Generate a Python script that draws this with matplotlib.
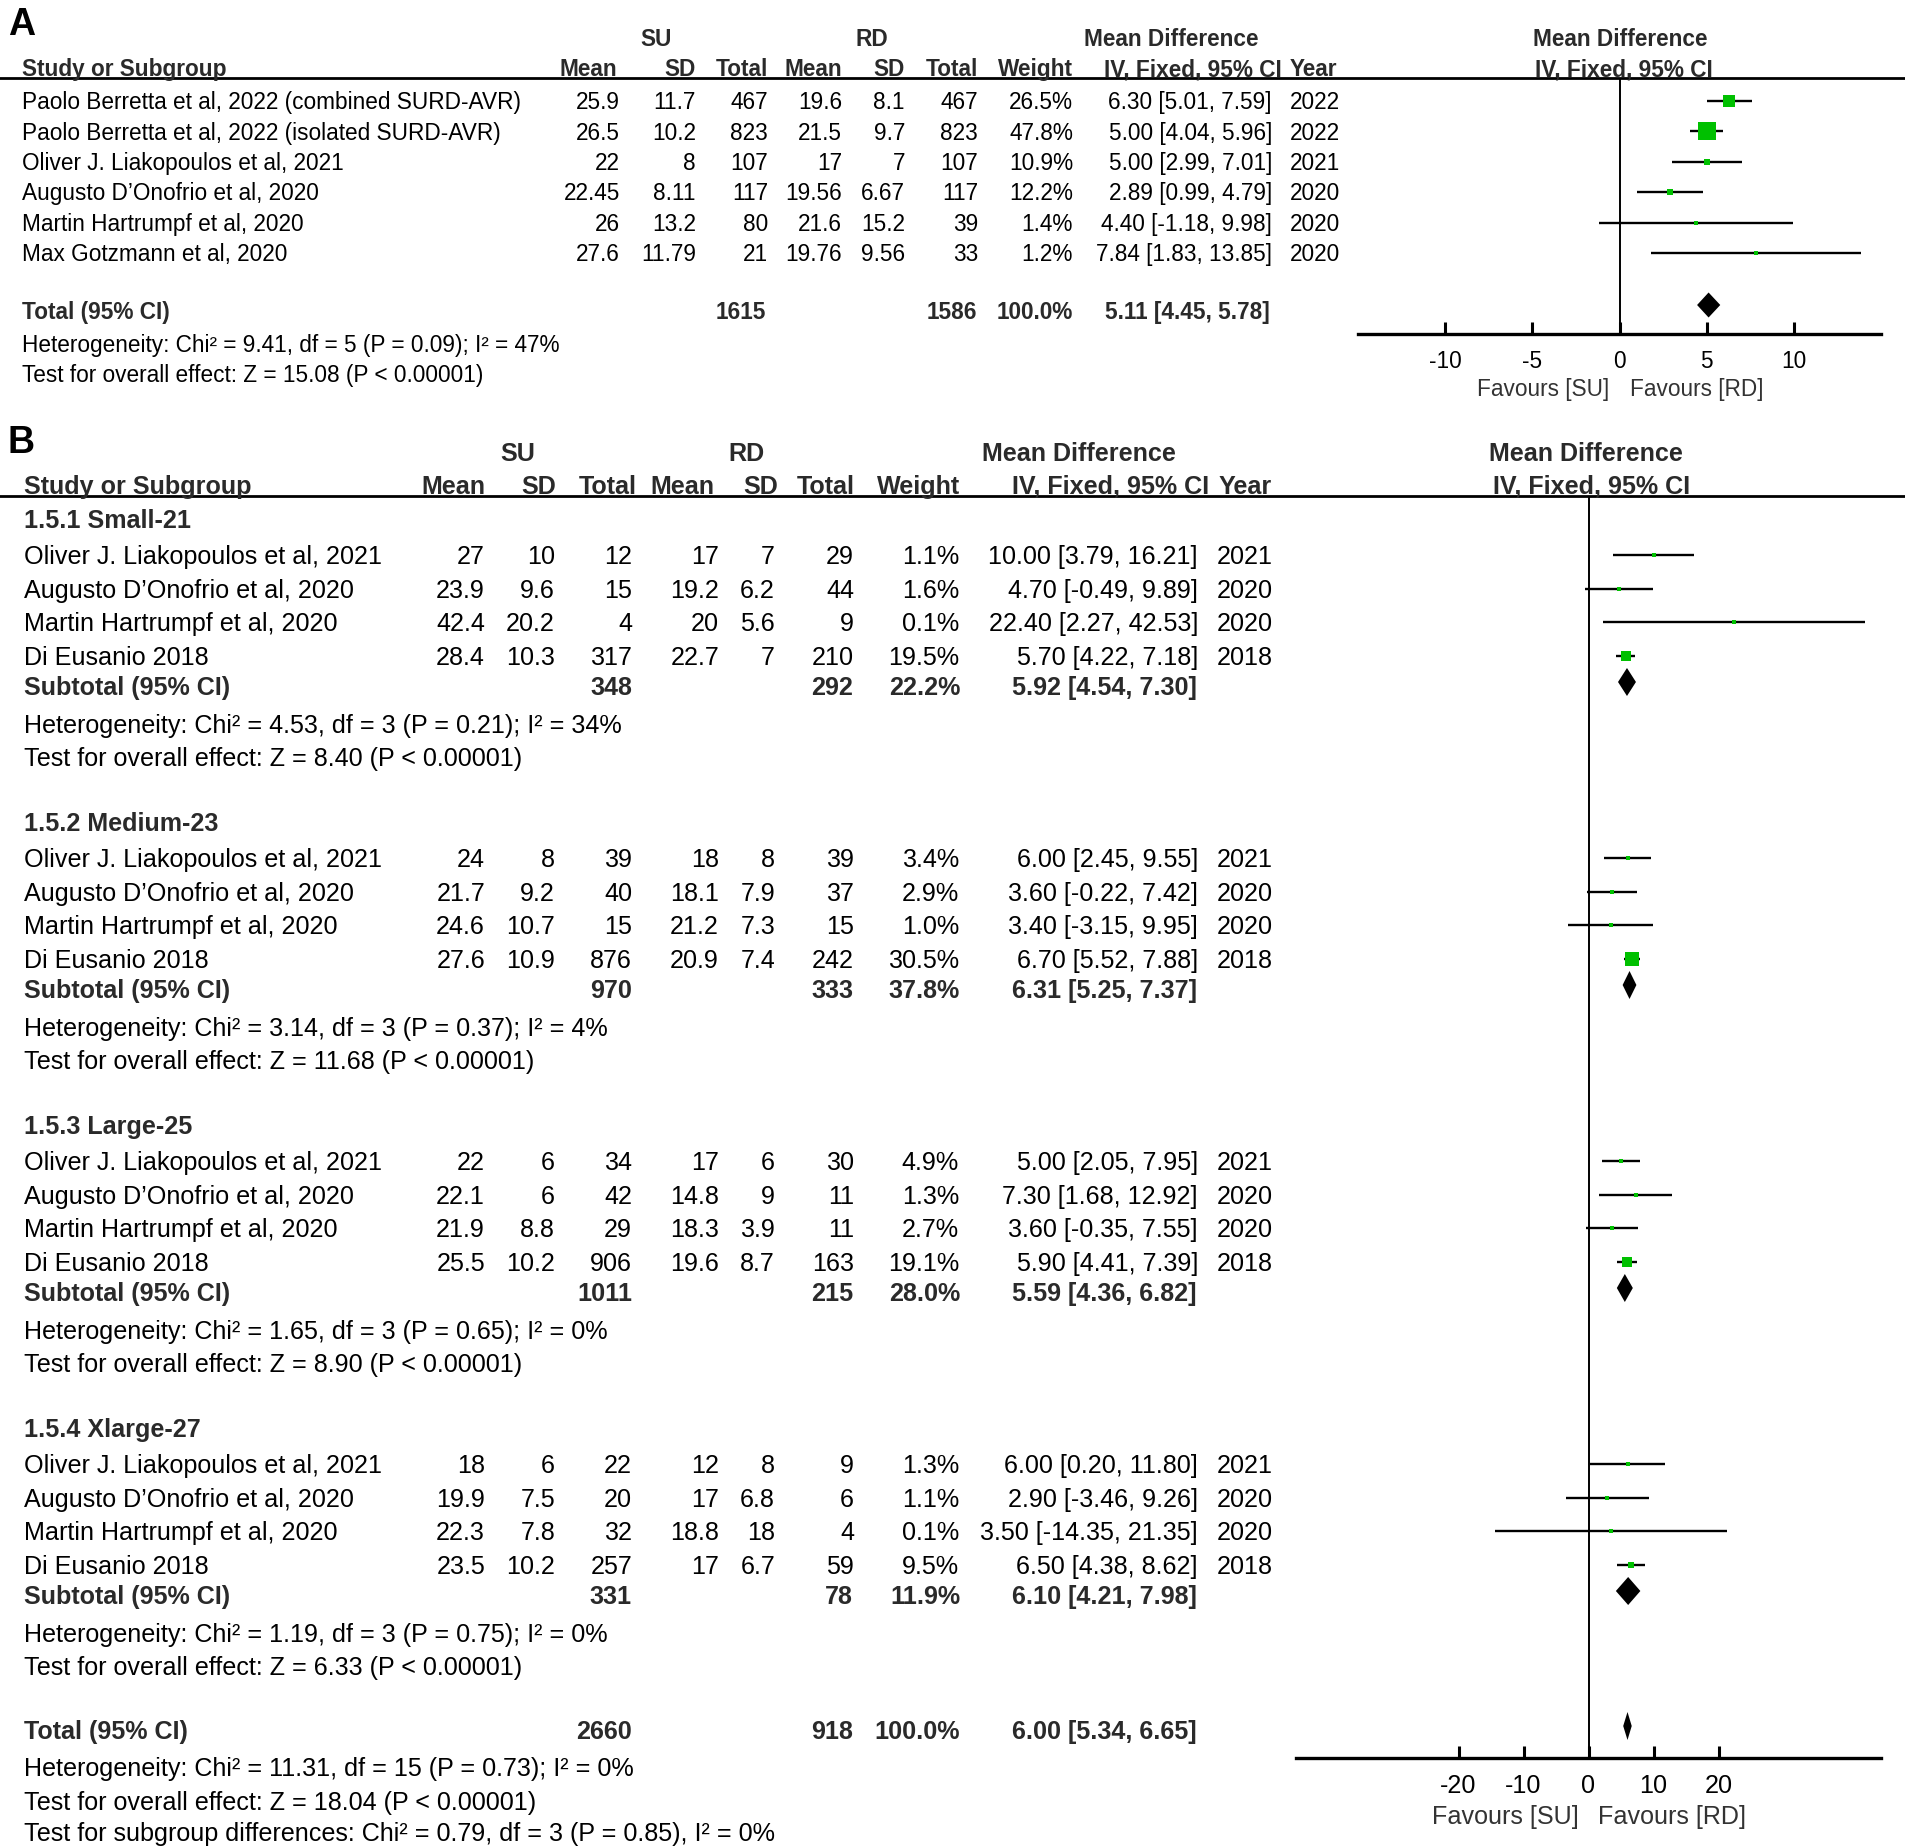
import matplotlib
matplotlib.use('Agg')
import matplotlib.pyplot as plt

plt.rcParams['font.family'] = ['Liberation Sans', 'DejaVu Sans']

W, H, DPI = 1905, 1846, 100

# ---------------- Panel A data ----------------
a_studies = ["Paolo Berretta et al, 2022 (combined SURD-AVR)",
             "Paolo Berretta et al, 2022 (isolated SURD-AVR)",
             "Oliver J. Liakopoulos et al, 2021",
             "Augusto D\u2019Onofrio et al, 2020",
             "Martin Hartrumpf et al, 2020",
             "Max Gotzmann et al, 2020"]
a_su_mean = [25.9, 26.5, 22, 22.45, 26, 27.6]
a_su_sd = [11.7, 10.2, 8, 8.11, 13.2, 11.79]
a_su_n = [467, 823, 107, 117, 80, 21]
a_rd_mean = [19.6, 21.5, 17, 19.56, 21.6, 19.76]
a_rd_sd = [8.1, 9.7, 7, 6.67, 15.2, 9.56]
a_rd_n = [467, 823, 107, 117, 39, 33]
a_weight = [26.5, 47.8, 10.9, 12.2, 1.4, 1.2]
a_md = [6.30, 5.00, 5.00, 2.89, 4.40, 7.84]
a_lo = [5.01, 4.04, 2.99, 0.99, -1.18, 1.83]
a_hi = [7.59, 5.96, 7.01, 4.79, 9.98, 13.85]
a_year = [2022, 2022, 2021, 2020, 2020, 2020]
a_total = {"su_n": 1615, "rd_n": 1586, "weight": 100.0, "md": 5.11, "lo": 4.45, "hi": 5.78}
a_notes = ["Heterogeneity: Chi\u00b2 = 9.41, df = 5 (P = 0.09); I\u00b2 = 47%",
           "Test for overall effect: Z = 15.08 (P < 0.00001)"]
a_ticks = [-10, -5, 0, 5, 10]

# ---------------- Panel B data ----------------
b_names = ["Oliver J. Liakopoulos et al, 2021", "Augusto D\u2019Onofrio et al, 2020",
           "Martin Hartrumpf et al, 2020", "Di Eusanio 2018"]
b_years = [2021, 2020, 2020, 2018]
b_groups = ["1.5.1 Small-21", "1.5.2 Medium-23", "1.5.3 Large-25", "1.5.4 Xlarge-27"]
b_su_mean = [[27, 23.9, 42.4, 28.4], [24, 21.7, 24.6, 27.6], [22, 22.1, 21.9, 25.5], [18, 19.9, 22.3, 23.5]]
b_su_sd = [[10, 9.6, 20.2, 10.3], [8, 9.2, 10.7, 10.9], [6, 6, 8.8, 10.2], [6, 7.5, 7.8, 10.2]]
b_su_n = [[12, 15, 4, 317], [39, 40, 15, 876], [34, 42, 29, 906], [22, 20, 32, 257]]
b_rd_mean = [[17, 19.2, 20, 22.7], [18, 18.1, 21.2, 20.9], [17, 14.8, 18.3, 19.6], [12, 17, 18.8, 17]]
b_rd_sd = [[7, 6.2, 5.6, 7], [8, 7.9, 7.3, 7.4], [6, 9, 3.9, 8.7], [8, 6.8, 18, 6.7]]
b_rd_n = [[29, 44, 9, 210], [39, 37, 15, 242], [30, 11, 11, 163], [9, 6, 4, 59]]
b_weight = [[1.1, 1.6, 0.1, 19.5], [3.4, 2.9, 1.0, 30.5], [4.9, 1.3, 2.7, 19.1], [1.3, 1.1, 0.1, 9.5]]
b_md = [[10.00, 4.70, 22.40, 5.70], [6.00, 3.60, 3.40, 6.70], [5.00, 7.30, 3.60, 5.90], [6.00, 2.90, 3.50, 6.50]]
b_lo = [[3.79, -0.49, 2.27, 4.22], [2.45, -0.22, -3.15, 5.52], [2.05, 1.68, -0.35, 4.41], [0.20, -3.46, -14.35, 4.38]]
b_hi = [[16.21, 9.89, 42.53, 7.18], [9.55, 7.42, 9.95, 7.88], [7.95, 12.92, 7.55, 7.39], [11.80, 9.26, 21.35, 8.62]]
b_sub_su_n = [348, 970, 1011, 331]
b_sub_rd_n = [292, 333, 215, 78]
b_sub_weight = [22.2, 37.8, 28.0, 11.9]
b_sub_md = [5.92, 6.31, 5.59, 6.10]
b_sub_lo = [4.54, 5.25, 4.36, 4.21]
b_sub_hi = [7.30, 7.37, 6.82, 7.98]
b_sub_het = ["Heterogeneity: Chi\u00b2 = 4.53, df = 3 (P = 0.21); I\u00b2 = 34%",
             "Heterogeneity: Chi\u00b2 = 3.14, df = 3 (P = 0.37); I\u00b2 = 4%",
             "Heterogeneity: Chi\u00b2 = 1.65, df = 3 (P = 0.65); I\u00b2 = 0%",
             "Heterogeneity: Chi\u00b2 = 1.19, df = 3 (P = 0.75); I\u00b2 = 0%"]
b_sub_test = ["Test for overall effect: Z = 8.40 (P < 0.00001)",
              "Test for overall effect: Z = 11.68 (P < 0.00001)",
              "Test for overall effect: Z = 8.90 (P < 0.00001)",
              "Test for overall effect: Z = 6.33 (P < 0.00001)"]
b_total = {"su_n": 2660, "rd_n": 918, "weight": 100.0, "md": 6.00, "lo": 5.34, "hi": 6.65}
b_notes = ["Heterogeneity: Chi\u00b2 = 11.31, df = 15 (P = 0.73); I\u00b2 = 0%",
           "Test for overall effect: Z = 18.04 (P < 0.00001)",
           "Test for subgroup differences: Chi\u00b2 = 0.79, df = 3 (P = 0.85), I\u00b2 = 0%"]
b_ticks = [-20, -10, 0, 10, 20]

GREEN = '#00C000'
HEAD = '#2a2a2a'

fig = plt.figure(figsize=(W / DPI, H / DPI), dpi=DPI)
bg = fig.add_axes([0, 0, 1, 1])
bg.set_xlim(0, W)
bg.set_ylim(H, 0)
bg.axis('off')


def txt(x, y, s, size, ha='left', bold=False, color='black'):
    em = size * DPI / 72.0
    bg.text(x, y + 0.358 * em, s, fontsize=size, ha=ha, va='baseline',
            fontweight='bold' if bold else 'normal', color=color, clip_on=False)


def fmt(v):
    return '{:g}'.format(v)


def ci(md, lo, hi):
    return '{:.2f} [{:.2f}, {:.2f}]'.format(md, lo, hi)


def forest_axes(x0, x1, ytop, ybot, xlim, ticks, size):
    ax = fig.add_axes([x0 / W, 1 - ybot / H, (x1 - x0) / W, (ybot - ytop) / H])
    ax.set_xlim(*xlim)
    ax.set_ylim(ybot, ytop)
    ax.patch.set_visible(False)
    for s in ['top', 'left', 'right']:
        ax.spines[s].set_visible(False)
    ax.spines['bottom'].set_linewidth(2.4)
    ax.set_yticks([])
    ax.set_xticks(ticks)
    ax.set_xticklabels([str(t) for t in ticks])
    ax.tick_params(axis='x', direction='in', length=9, width=2.2, pad=11.5, labelsize=size)
    ax.axvline(0, color='black', lw=1.4, zorder=1)
    return ax


def draw_favours(ax, dy, size):
    em = size * DPI / 72.0
    off = -(dy + 0.358 * em)
    ax.annotate('Favours [SU]', xy=(0, 0), xycoords=('data', 'axes fraction'),
                xytext=(-10, off), textcoords='offset pixels', ha='right', va='baseline',
                fontsize=size, color='#333333', annotation_clip=False)
    ax.annotate('Favours [RD]', xy=(0, 0), xycoords=('data', 'axes fraction'),
                xytext=(10, off), textcoords='offset pixels', ha='left', va='baseline',
                fontsize=size, color='#333333', annotation_clip=False)


def square(ax, x, y, w, scale):
    side_px = max(4.0, scale * 1.21 * w ** 0.69)
    side_pt = side_px * 72.0 / DPI
    ax.scatter([x], [y], marker='s', s=side_pt ** 2, color=GREEN, linewidths=0, zorder=3, clip_on=False)


def diamond(ax, md, lo, hi, y, half):
    ax.fill([lo, md, hi, md], [y, y - half, y, y + half], color='black', lw=0, zorder=3, clip_on=False)


# ================= Panel A =================
fa = 16.3
txt(8, 22, 'A', 27, bold=True)
txt(656, 38, 'SU', fa, ha='center', bold=True, color=HEAD)
txt(872, 38, 'RD', fa, ha='center', bold=True, color=HEAD)
txt(1171, 38, 'Mean Difference', fa, ha='center', bold=True, color=HEAD)
txt(1620, 38, 'Mean Difference', fa, ha='center', bold=True, color=HEAD)
a_hdr_y = 68
txt(22, a_hdr_y, 'Study or Subgroup', fa, bold=True, color=HEAD)
a_hdr_cols = [617, 696, 768, 842, 905, 978, 1073, 1282]
a_hdr_txt = ['Mean', 'SD', 'Total', 'Mean', 'SD', 'Total', 'Weight', 'IV, Fixed, 95% CI']
for xh, s in zip(a_hdr_cols, a_hdr_txt):
    txt(xh, a_hdr_y, s, fa, ha='right', bold=True, color=HEAD)
txt(1290, a_hdr_y, 'Year', fa, bold=True, color=HEAD)
txt(1624, a_hdr_y, 'IV, Fixed, 95% CI', fa, ha='center', bold=True, color=HEAD)
bg.axhline(78, color='black', lw=2.0)

a_cols = [620, 696, 768, 842, 905, 978, 1073, 1272]
a_rows = [101 + 30.4 * i for i in range(len(a_studies))]
for i, y in enumerate(a_rows):
    txt(22, y, a_studies[i], fa)
    vals = [fmt(a_su_mean[i]), fmt(a_su_sd[i]), str(a_su_n[i]), fmt(a_rd_mean[i]),
            fmt(a_rd_sd[i]), str(a_rd_n[i]), '{:.1f}%'.format(a_weight[i]),
            ci(a_md[i], a_lo[i], a_hi[i])]
    for xc, s in zip(a_cols, vals):
        txt(xc, y, s, fa, ha='right')
    txt(1290, y, str(a_year[i]), fa)

yt = 311
txt(22, yt, 'Total (95% CI)', fa, bold=True, color=HEAD)
txt(766, yt, str(a_total['su_n']), fa, ha='right', bold=True, color=HEAD)
txt(977, yt, str(a_total['rd_n']), fa, ha='right', bold=True, color=HEAD)
txt(1073, yt, '{:.1f}%'.format(a_total['weight']), fa, ha='right', bold=True, color=HEAD)
txt(1270, yt, ci(a_total['md'], a_total['lo'], a_total['hi']), fa, ha='right', bold=True, color=HEAD)
txt(22, 344, a_notes[0], fa)
txt(22, 374, a_notes[1], fa)

axA = forest_axes(1358, 1881, 78, 334, (-15, 15), a_ticks, fa)
axA.hlines(a_rows, a_lo, a_hi, color='black', lw=1.7, zorder=2)
for i, y in enumerate(a_rows):
    square(axA, a_md[i], y, a_weight[i], 1.0)
diamond(axA, a_total['md'], a_total['lo'], a_total['hi'], yt - 6, 12.5)
draw_favours(axA, 54, fa)

# ================= Panel B =================
fb = 18.1
txt(8, 440, 'B', 27, bold=True)
txt(518, 452, 'SU', fb, ha='center', bold=True, color=HEAD)
txt(746, 452, 'RD', fb, ha='center', bold=True, color=HEAD)
txt(1079, 452, 'Mean Difference', fb, ha='center', bold=True, color=HEAD)
txt(1586, 452, 'Mean Difference', fb, ha='center', bold=True, color=HEAD)
b_hdr_y = 485
txt(24, b_hdr_y, 'Study or Subgroup', fb, bold=True, color=HEAD)
b_hdr_cols = [485, 556, 637, 714, 778, 855, 960, 1209]
for xh, s in zip(b_hdr_cols, a_hdr_txt):
    txt(xh, b_hdr_y, s, fb, ha='right', bold=True, color=HEAD)
txt(1219, b_hdr_y, 'Year', fb, bold=True, color=HEAD)
txt(1592, b_hdr_y, 'IV, Fixed, 95% CI', fb, ha='center', bold=True, color=HEAD)
bg.axhline(496, color='black', lw=2.0)

axB = forest_axes(1296, 1881, 496, 1758, (-45, 45), b_ticks, fb)

b_cols = [485, 555, 632, 719, 775, 854, 959, 1198]
g_start = [519 + 303 * g for g in range(len(b_groups))]
for g, gs in enumerate(g_start):
    txt(24, gs, b_groups[g], fb, bold=True, color=HEAD)
    rows = [gs + 36 + 33.7 * j for j in range(len(b_names))]
    for j, y in enumerate(rows):
        txt(24, y, b_names[j], fb)
        vals = [fmt(b_su_mean[g][j]), fmt(b_su_sd[g][j]), str(b_su_n[g][j]),
                fmt(b_rd_mean[g][j]), fmt(b_rd_sd[g][j]), str(b_rd_n[g][j]),
                '{:.1f}%'.format(b_weight[g][j]), ci(b_md[g][j], b_lo[g][j], b_hi[g][j])]
        for xc, s in zip(b_cols, vals):
            txt(xc, y, s, fb, ha='right')
        txt(1217, y, str(b_years[j]), fb)
    axB.hlines(rows, b_lo[g], b_hi[g], color='black', lw=1.7, zorder=2)
    for j, y in enumerate(rows):
        square(axB, b_md[g][j], y, b_weight[g][j], 1.15)
    ys = gs + 167
    txt(24, ys, 'Subtotal (95% CI)', fb, bold=True, color=HEAD)
    txt(632, ys, str(b_sub_su_n[g]), fb, ha='right', bold=True, color=HEAD)
    txt(853, ys, str(b_sub_rd_n[g]), fb, ha='right', bold=True, color=HEAD)
    txt(960, ys, '{:.1f}%'.format(b_sub_weight[g]), fb, ha='right', bold=True, color=HEAD)
    txt(1197, ys, ci(b_sub_md[g], b_sub_lo[g], b_sub_hi[g]), fb, ha='right', bold=True, color=HEAD)
    diamond(axB, b_sub_md[g], b_sub_lo[g], b_sub_hi[g], ys - 4, 14)
    txt(24, gs + 205, b_sub_het[g], fb)
    txt(24, gs + 238, b_sub_test[g], fb)

yT = 1730
txt(24, yT, 'Total (95% CI)', fb, bold=True, color=HEAD)
txt(632, yT, str(b_total['su_n']), fb, ha='right', bold=True, color=HEAD)
txt(853, yT, str(b_total['rd_n']), fb, ha='right', bold=True, color=HEAD)
txt(960, yT, '{:.1f}%'.format(b_total['weight']), fb, ha='right', bold=True, color=HEAD)
txt(1197, yT, ci(b_total['md'], b_total['lo'], b_total['hi']), fb, ha='right', bold=True, color=HEAD)
diamond(axB, b_total['md'], b_total['lo'], b_total['hi'], yT - 4, 14)
txt(24, 1767, b_notes[0], fb)
txt(24, 1801, b_notes[1], fb)
txt(24, 1832, b_notes[2], fb)
draw_favours(axB, 57, fb)

fig.savefig('out.png', dpi=DPI)
